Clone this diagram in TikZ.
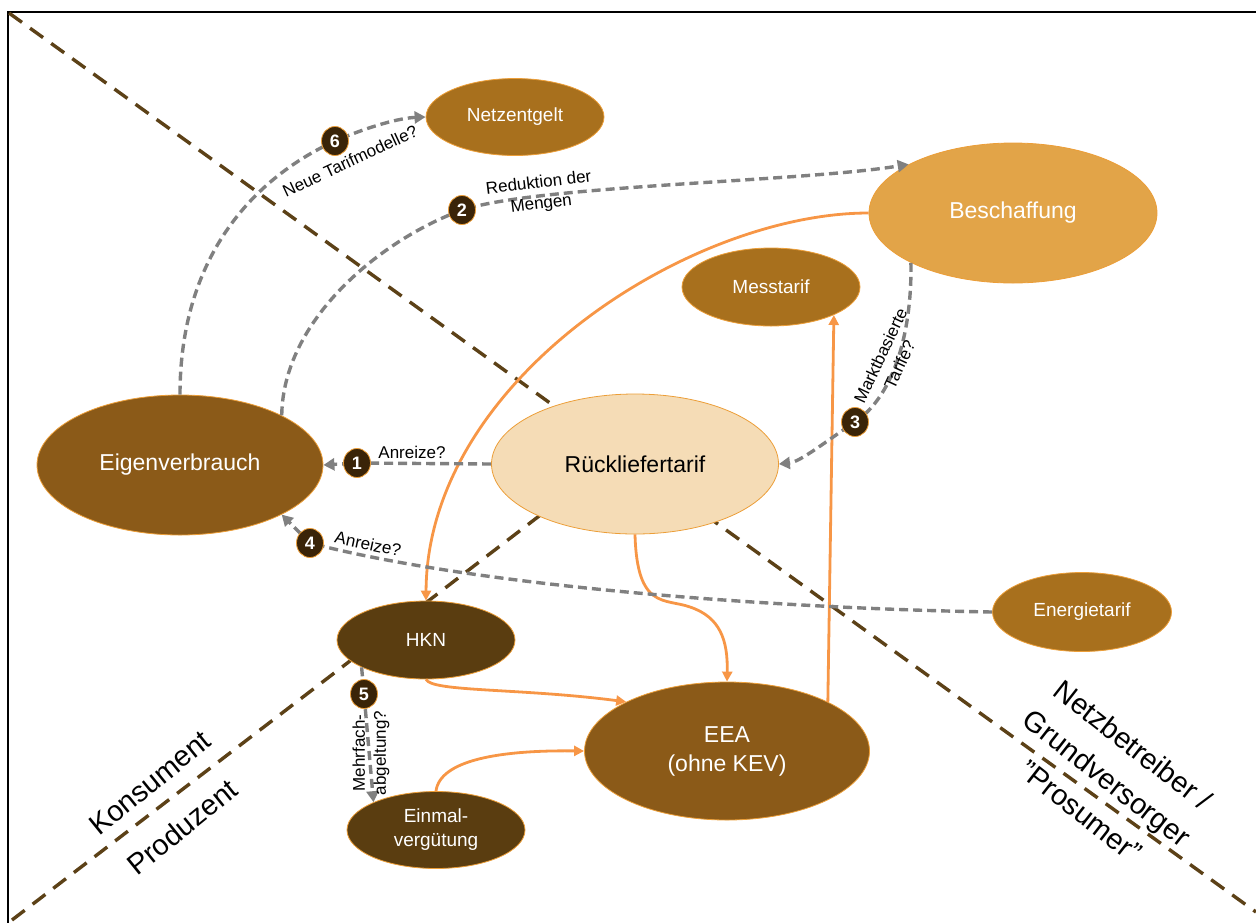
\documentclass[tikz,border=0pt]{standalone}
\usepackage{fontspec}
\setmainfont{Liberation Sans}
\usetikzlibrary{arrows.meta,shapes.geometric}

\definecolor{braun}{HTML}{8B5A18}
\definecolor{ocker}{HTML}{A8701D}
\definecolor{hellorange}{HTML}{E2A448}
\definecolor{creme}{HTML}{F5DCB6}
\definecolor{dunkelbraun}{HTML}{5A3D10}
\definecolor{kreisbraun}{HTML}{3A2408}
\definecolor{randorange}{HTML}{EC9E38}
\definecolor{pfeilorange}{HTML}{F79646}
\definecolor{grau}{HTML}{808080}
\definecolor{linienbraun}{HTML}{5C4117}

\newcommand{\schriftgross}{\fontsize{23}{29}\selectfont}
\newcommand{\schriftmittel}{\fontsize{19}{24}\selectfont}
\newcommand{\schriftklein}{\fontsize{17}{21}\selectfont}
\newcommand{\schriftbereich}{\fontsize{29}{42}\selectfont}

\tikzset{
  blase/.style={ellipse, draw=randorange, line width=0.8pt, inner sep=0pt,
    align=center, text=white, font=\schriftmittel},
  gross/.style={font=\schriftgross},
  nummer/.style={ellipse, fill=kreisbraun, draw=randorange, line width=0.8pt,
    minimum width=27pt, minimum height=29pt, inner sep=0pt, text=white,
    font=\bfseries\fontsize{18}{18}\selectfont},
  grauerpfeil/.style={draw=grau, line width=3.4pt, dash pattern=on 9pt off 5pt,
    -{Triangle[length=11pt,width=12pt]}},
  orangerpfeil/.style={draw=pfeilorange, line width=2.8pt,
    -{Triangle[length=10pt,width=10pt]}},
  trennlinie/.style={draw=linienbraun, line width=3.4pt, dash pattern=on 16pt off 10pt},
  beschriftung/.style={inner sep=0pt, align=center, font=\schriftklein},
  bereich/.style={inner sep=0pt, align=center, font=\schriftbereich},
}

\begin{document}
\begin{tikzpicture}[x=1pt,y=-1pt]
  \useasboundingbox (0,0) rectangle (1256,922);
  % Rahmen
  \draw[line width=2pt] (8,930) -- (8,12) -- (1265,12);

  % Trennlinien zwischen den Bereichen
  \draw[trennlinie] (9,13) -- (1256,912);
  \draw[trennlinie] (12,920) -- (560,500);

  % Tarife und Akteure
  \node[blase, fill=ocker, minimum width=178pt, minimum height=77pt] (netz) at (515,117) {Netzentgelt};
  \node[blase, gross, fill=hellorange, minimum width=288pt, minimum height=140pt] (besch) at (1013,213) {Beschaffung};
  \node[blase, fill=ocker, minimum width=178pt, minimum height=78pt] (mess) at (771,287) {Messtarif};
  \node[blase, gross, fill=braun, minimum width=286pt, minimum height=140pt] (eigen) at (180,465) {Eigenverbrauch};
  \node[blase, gross, fill=creme, text=black, minimum width=287pt, minimum height=140pt] (rueck) at (635,464) {Rückliefertarif};
  \node[blase, fill=ocker, minimum width=179pt, minimum height=79pt] (energie) at (1082,612) {Energietarif};
  \node[blase, fill=dunkelbraun, minimum width=178pt, minimum height=78pt] (hkn) at (426,640) {HKN};
  \node[blase, gross, fill=braun, minimum width=285pt, minimum height=138pt] (eea) at (727,751) {EEA\\(ohne KEV)};
  \node[blase, fill=dunkelbraun, minimum width=178pt, minimum height=77pt] (einmal) at (436,830) {Einmal-\\vergütung};

  % Lage der Nummern
  \coordinate (k1) at (357,463);
  \coordinate (k2) at (462,210);
  \coordinate (k3) at (855,422);
  \coordinate (k4) at (310,543);
  \coordinate (k5) at (364,694);
  \coordinate (k6) at (335,141);

  % Geldfluesse
  \draw[orangerpfeil] (besch.west) .. controls (690,213) and (427,380) .. (hkn.north);
  \draw[orangerpfeil] (rueck.south) .. controls (637,610) and (665,598) .. (690,607)
                                   .. controls (720,617) and (728,640) .. (eea.north);
  \draw[orangerpfeil] (hkn.south) .. controls (432,692) and (520,688) .. (eea.154);
  \draw[orangerpfeil] (einmal.north) .. controls (440,760) and (500,750) .. (eea.west);
  \draw[orangerpfeil] (eea.26) -- (mess.-24);

  % Wirkungen
  \draw[grauerpfeil] (rueck.west) -- (k1) -- (eigen.east);
  \draw[grauerpfeil] (eigen.26) .. controls (283,320) and (380,240) .. (k2)
                               .. controls (540,185) and (800,182) .. (besch.155);
  \draw[grauerpfeil] (besch.206) .. controls (912,330) and (895,395) .. (k3)
                                .. controls (825,442) and (800,462) .. (rueck.east);
  \draw[grauerpfeil] (energie.west) .. controls (760,608) and (470,585) .. (k4) -- (eigen.-26);
  \draw[grauerpfeil] (hkn.203) -- (k5) -- (einmal.156);
  \draw[grauerpfeil] (eigen.north) .. controls (180,260) and (250,180) .. (k6)
                                  .. controls (370,126) and (400,118) .. (netz.west);

  \foreach \k in {1,...,6}
    \node[nummer] (n\k) at (k\k) {\k};

  % Beschriftungen
  \node[beschriftung] (l1) at (412,452) {Anreize?};
  \node[beschriftung, rotate=7] (l2) at (540,194) {Reduktion der\\Mengen};
  \node[beschriftung, rotate=65] (l3) at (890,360) {Marktbasierte\\Tarife?};
  \node[beschriftung, rotate=-12] (l4) at (368,544) {Anreize?};
  \node[beschriftung, rotate=90] (l5) at (371,753) {Mehrfach-\\abgeltung?};
  \node[beschriftung, rotate=25] (l6) at (350,161) {Neue Tarifmodelle?};

  % Bereiche
  \node[bereich, rotate=39] (kons) at (150,783) {Konsument};
  \node[bereich, rotate=39] (prod) at (182,827) {Produzent};
  \node[bereich, rotate=-38] (netzb) at (1107,778) {Netzbetreiber /\\Grundversorger\\"Prosumer"};
\end{tikzpicture}
\end{document}
